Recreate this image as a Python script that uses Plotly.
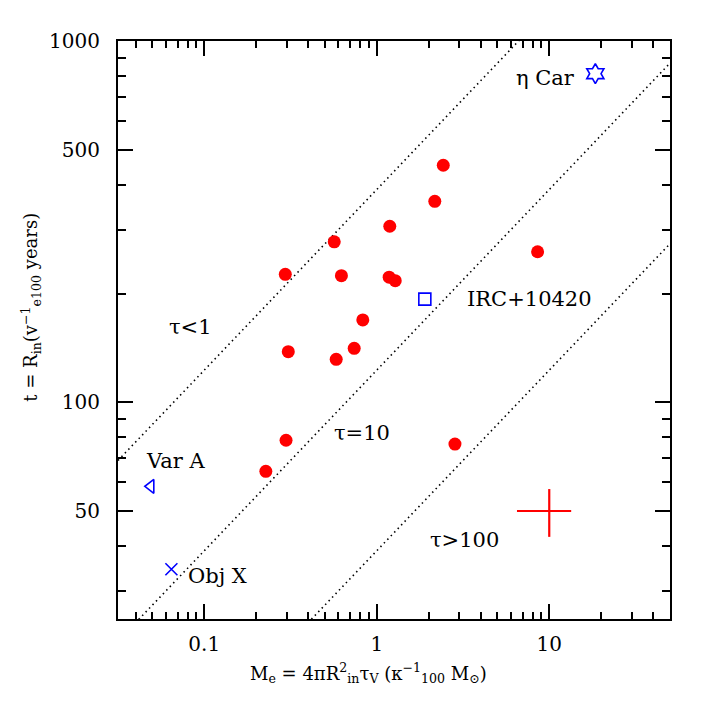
import numpy as np
import plotly.graph_objects as go

# red sample (filled circles)
m_red = [0.295, 0.567, 0.624, 1.19, 1.18, 1.28, 2.17, 2.43, 0.83, 0.2275, 0.298,
         8.56, 0.307, 0.582, 0.740, 2.84]
t_red = [226, 278, 224, 307, 222, 217, 360, 453, 169, 64.4, 78.5,
         261, 138, 131.5, 141, 76.6]

# named objects (blue, open symbols)
obj_names = ["η Car", "IRC+10420", "Var A", "Obj X"]
obj_m = [18.5, 1.90, 0.049, 0.0645]
obj_t = [812, 193, 58.5, 34.5]
obj_symbols = ["hexagram-open", "square-open", "triangle-left-open", "x-thin-open"]

# typical error cross
err_m, err_t = 10, 50
err_m_lo, err_m_hi = 3.5, 3.4
err_t_lo, err_t_hi = 7.6, 7.5

# constant optical depth lines: t = C * sqrt(M / tau)
taus = [1, 10, 100]
C = 388.0
tau_labels = ["τ<1", "τ=10", "τ>100"]

FONT = "DejaVu Serif"
xr = [-1.5, 1.7]
yr = [1.4, 3.0]

fig = go.Figure()

mx = np.logspace(xr[0], xr[1], 50)
for tau in taus:
    fig.add_trace(go.Scatter(x=mx, y=C * np.sqrt(mx / tau), mode="lines",
                             line=dict(color="black", width=1.6, dash="1.5px,3.5px"),
                             hoverinfo="skip", showlegend=False))

fig.add_trace(go.Scatter(x=m_red, y=t_red, mode="markers",
                         marker=dict(color="#ff0000", size=13), showlegend=False))

for m, t, s in zip(obj_m, obj_t, obj_symbols):
    sz = 15 if s == "hexagram-open" else 12
    fig.add_trace(go.Scatter(x=[m], y=[t], mode="markers",
                             marker=dict(symbol=s, size=sz, color="#0000ff",
                                         line=dict(color="#0000ff", width=1.6)),
                             showlegend=False))

fig.add_trace(go.Scatter(
    x=[err_m], y=[err_t], mode="markers",
    marker=dict(size=1, color="rgba(0,0,0,0)"),
    error_x=dict(type="data", symmetric=False, array=[err_m_hi], arrayminus=[err_m_lo],
                 color="#ff0000", thickness=2.2, width=0),
    error_y=dict(type="data", symmetric=False, array=[err_t_hi], arrayminus=[err_t_lo],
                 color="#ff0000", thickness=2.2, width=0),
    showlegend=False))

# object labels (data units, placed on the log axes)
obj_label_pos = [(9.5, 791), (7.7, 193), (0.0678, 68.7), (0.119, 33.0)]
for name, (lx, ly) in zip(obj_names, obj_label_pos):
    fig.add_annotation(x=np.log10(lx), y=np.log10(ly), text=name, showarrow=False,
                       xanchor="center", yanchor="middle",
                       font=dict(family=FONT, size=21, color="black"))

tau_label_pos = [(0.0833, 162), (0.822, 82), (3.24, 41.5)]
for lab, (lx, ly) in zip(tau_labels, tau_label_pos):
    fig.add_annotation(x=np.log10(lx), y=np.log10(ly), text=lab, showarrow=False,
                       xanchor="center", yanchor="middle",
                       font=dict(family=FONT, size=21, color="black"))

# axis titles
fig.add_annotation(xref="paper", yref="paper", x=0.453, y=-0.093,
                   xanchor="center", yanchor="middle",
                   text="M<sub>e</sub> = 4πR<sup>2</sup><sub>in</sub>τ<sub>V</sub> (κ<sup>−1</sup><sub>100</sub> M<sub>⊙</sub>)",
                   showarrow=False, font=dict(family=FONT, size=18, color="black"))
fig.add_annotation(xref="paper", yref="paper", x=-0.158, y=0.54, textangle=-90,
                   xanchor="center", yanchor="middle",
                   text="t = R<sub>in</sub>(v<sup>−1</sup><sub>e100</sub> years)",
                   showarrow=False, font=dict(family=FONT, size=18, color="black"))

x_minor = [0.04, 0.05, 0.06, 0.07, 0.08, 0.09, 0.2, 0.3, 0.4, 0.5, 0.6, 0.7, 0.8, 0.9,
           2, 3, 4, 5, 6, 7, 8, 9, 20, 30, 40]
y_minor = [30, 40, 60, 70, 80, 90, 200, 300, 400, 600, 700, 800, 900]

axis_common = dict(showline=True, linecolor="black", linewidth=2, mirror="ticks",
                   ticks="inside", ticklen=15, tickwidth=1.5, tickcolor="black",
                   showgrid=False, zeroline=False,
                   tickfont=dict(family=FONT, size=20, color="black"))

fig.update_xaxes(type="log", range=xr, tickvals=[0.1, 1, 10], ticktext=["0.1", "1", "10"],
                 minor=dict(ticks="inside", ticklen=7, tickwidth=1.5, tickcolor="black",
                            tickvals=x_minor, showgrid=False),
                 ticklabelstandoff=6, **axis_common)
fig.update_yaxes(type="log", range=yr, tickvals=[50, 100, 500, 1000],
                 ticktext=["50", "100", "500", "1000"],
                 minor=dict(ticks="inside", ticklen=8, tickwidth=1.5, tickcolor="black",
                            tickvals=y_minor, showgrid=False),
                 ticklabelstandoff=12, **axis_common)

fig.update_layout(width=708, height=708, plot_bgcolor="white", paper_bgcolor="white",
                  margin=dict(l=110, r=46, t=33, b=97), showlegend=False)

fig.write_html("out.html")
